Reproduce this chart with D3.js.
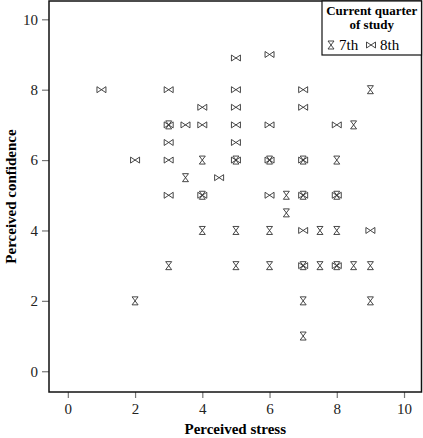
<!DOCTYPE html>
<html>
<head>
<meta charset="utf-8">
<script src="https://cdn.jsdelivr.net/npm/d3@7/dist/d3.min.js"></script>
<style>
  html, body { margin: 0; padding: 0; background: #fff; }
  svg { display: block; font-family: "Liberation Serif", "DejaVu Serif", serif; }
</style>
</head>
<body>
<svg id="chart" width="423" height="438"></svg>
<script>
// Data: current quarter of study, 7th
const stress7th = [2, 3, 3, 3.5, 4, 4, 4, 5, 5, 5, 6, 6, 6, 6.5, 6.5, 7, 7, 7, 7, 7, 7.5, 7.5, 8, 8, 8, 8, 8.5, 8.5, 9, 9, 9];
const confidence7th = [2, 7, 3, 5.5, 6, 5, 4, 6, 4, 3, 6, 4, 3, 5, 4.5, 6, 5, 3, 2, 1, 4, 3, 6, 5, 4, 3, 7, 3, 8, 3, 2];
// Data: current quarter of study, 8th
const stress8th = [1, 2, 3, 3, 3, 3, 3, 3.5, 4, 4, 4, 4.5, 5, 5, 5, 5, 5, 5, 6, 6, 6, 6, 7, 7, 7, 7, 7, 7, 8, 8, 8, 9];
const confidence8th = [8, 6, 8, 7, 6.5, 6, 5, 7, 7.5, 7, 5, 5.5, 8.9, 8, 7.5, 7, 6.5, 6, 9, 7, 6, 5, 8, 7.5, 6, 5, 4, 3, 7, 5, 3, 4];
const xTicks = [0, 2, 4, 6, 8, 10];
const yTicks = [0, 2, 4, 6, 8, 10];
const seriesNames = ["7th", "8th"];

(function () {
const svg = d3.select("#chart");
const pLeft = 49, pRight = 421.5, pTop = 1, pBottom = 392;

const x = d3.scaleLinear().domain([-0.56, 10.52]).range([pLeft, pRight]);
const y = d3.scaleLinear().domain([-0.59, 10.52]).range([pBottom, pTop]);

const hourglass = "M-3,-4L3,-4L-3,4L3,4Z";
const bowtie = "M-4.5,-3L-4.5,3L4.5,-3L4.5,3Z";

// axes
const xAxis = d3.axisBottom(x).tickValues(xTicks).tickSize(6).tickPadding(5);
const yAxis = d3.axisLeft(y).tickValues(yTicks).tickSize(7).tickPadding(4);

const gx = svg.append("g").attr("transform", `translate(0,${pBottom})`).call(xAxis);
const gy = svg.append("g").attr("transform", `translate(${pLeft},0)`).call(yAxis);
[gx, gy].forEach(g => {
  g.select(".domain").remove();
  g.selectAll(".tick line").attr("stroke", "#777").attr("stroke-width", 1.2);
  g.selectAll(".tick text").attr("fill", "#222").style("font-size", "15px")
    .style("font-family", "'Liberation Serif', serif");
});

// plot box
svg.append("rect").attr("x", pLeft).attr("y", pTop)
  .attr("width", pRight - pLeft).attr("height", pBottom - pTop)
  .attr("fill", "none").attr("stroke", "#111").attr("stroke-width", 1.5);

// points
const pts7 = stress7th.map((d, i) => ({ x: d, y: confidence7th[i] }));
const pts8 = stress8th.map((d, i) => ({ x: d, y: confidence8th[i] }));

svg.append("g").selectAll("path").data(pts7).join("path")
  .attr("d", hourglass)
  .attr("transform", d => `translate(${x(d.x)},${y(d.y)})`)
  .attr("fill", "none").attr("stroke", "#333").attr("stroke-width", 0.9);

svg.append("g").selectAll("path").data(pts8).join("path")
  .attr("d", bowtie)
  .attr("transform", d => `translate(${x(d.x)},${y(d.y)})`)
  .attr("fill", "none").attr("stroke", "#333").attr("stroke-width", 0.9);

// axis titles
svg.append("text").attr("x", (pLeft + pRight) / 2).attr("y", 434)
  .attr("text-anchor", "middle").style("font-weight", "bold").style("font-size", "15px")
  .text("Perceived stress");
svg.append("text").attr("transform", `translate(16,${(pTop + pBottom) / 2}) rotate(-90)`)
  .attr("text-anchor", "middle").style("font-weight", "bold").style("font-size", "15px")
  .text("Perceived confidence");

// legend
const lg = svg.append("g");
lg.append("rect").attr("x", 322).attr("y", pTop).attr("width", pRight - 322).attr("height", 55 - pTop)
  .attr("fill", "#fff").attr("stroke", "#111").attr("stroke-width", 1.2);
const lcx = (322 + pRight) / 2;
lg.append("text").attr("x", lcx).attr("y", 15).attr("text-anchor", "middle")
  .style("font-weight", "bold").style("font-size", "13px").text("Current quarter");
lg.append("text").attr("x", lcx).attr("y", 29).attr("text-anchor", "middle")
  .style("font-weight", "bold").style("font-size", "13px").text("of study");
lg.append("path").attr("d", hourglass).attr("transform", "translate(331,45)")
  .attr("fill", "none").attr("stroke", "#333").attr("stroke-width", 0.9);
lg.append("text").attr("x", 339).attr("y", 49.5).style("font-size", "15px").text(seriesNames[0]);
lg.append("path").attr("d", bowtie).attr("transform", "translate(371,45)")
  .attr("fill", "none").attr("stroke", "#333").attr("stroke-width", 0.9);
lg.append("text").attr("x", 380).attr("y", 49.5).style("font-size", "15px").text(seriesNames[1]);
})();
</script>
</body>
</html>
